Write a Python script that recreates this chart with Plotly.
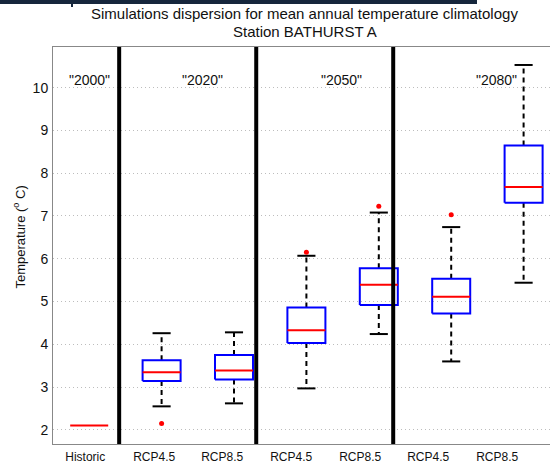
import plotly.graph_objects as go

# Box-plot summary statistics (degrees C) per simulation group
categories = ["Historic", "RCP4.5", "RCP8.5", "RCP4.5", "RCP8.5", "RCP4.5", "RCP8.5"]
whisker_low = [2.10, 2.55, 2.62, 2.97, 4.24, 3.60, 5.44]
q1 = [2.10, 3.14, 3.18, 4.03, 4.92, 4.72, 7.31]
median = [2.10, 3.35, 3.39, 4.33, 5.39, 5.11, 7.68]
q3 = [2.10, 3.63, 3.75, 4.86, 5.78, 5.53, 8.65]
whisker_high = [2.10, 4.26, 4.28, 6.07, 7.08, 6.74, 10.53]
outliers = [[], [2.15], [], [6.15], [7.23], [7.03], []]

periods = ['"2000"', '"2020"', '"2050"', '"2080"']
y_ticks = [2, 3, 4, 5, 6, 7, 8, 9, 10]

# layout helpers (label / separator placement along the box axis)
label_x = [0.945, 1.898, 2.837, 3.790, 4.743, 5.682, 6.635]
period_label_x = [1.0, 2.56, 4.49, 6.62]
period_label_y = 10.17
separators_x = [1.414, 3.307, 5.199]
BOX_HALF = 0.2625
CAP_HALF = 0.125

positions = list(range(1, len(categories) + 1))

box_x, box_y = [], []
med_x, med_y = [], []
wh_x, wh_y = [], []
cap_x, cap_y = [], []
out_x, out_y = [], []

for p, lo, a, m, b, hi, outs in zip(positions, whisker_low, q1, median, q3, whisker_high, outliers):
    med_x += [p - BOX_HALF, p + BOX_HALF, None]
    med_y += [m, m, None]
    for v in outs:
        out_x.append(p)
        out_y.append(v)
    if b <= a:
        continue
    box_x += [p - BOX_HALF, p + BOX_HALF, p + BOX_HALF, p - BOX_HALF, p - BOX_HALF, None]
    box_y += [a, a, b, b, a, None]
    wh_x += [p, p, None, p, p, None]
    wh_y += [b, hi, None, a, lo, None]
    cap_x += [p - CAP_HALF, p + CAP_HALF, None, p - CAP_HALF, p + CAP_HALF, None]
    cap_y += [hi, hi, None, lo, lo, None]

fig = go.Figure()
fig.add_trace(go.Scatter(x=wh_x, y=wh_y, mode="lines",
                         line=dict(color="black", width=2, dash="5px,4px"),
                         hoverinfo="skip", showlegend=False))
fig.add_trace(go.Scatter(x=cap_x, y=cap_y, mode="lines",
                         line=dict(color="black", width=2),
                         hoverinfo="skip", showlegend=False))
fig.add_trace(go.Scatter(x=box_x, y=box_y, mode="lines",
                         line=dict(color="#0000ff", width=2),
                         hoverinfo="skip", showlegend=False))
fig.add_trace(go.Scatter(x=med_x, y=med_y, mode="lines",
                         line=dict(color="#ff0000", width=2),
                         hoverinfo="skip", showlegend=False))
fig.add_trace(go.Scatter(x=out_x, y=out_y, mode="markers",
                         marker=dict(color="#ff0000", size=5, symbol="circle"),
                         hoverinfo="skip", showlegend=False))

# period separators
for sx in separators_x:
    fig.add_shape(type="line", xref="x", yref="paper", x0=sx, x1=sx, y0=0, y1=1,
                  line=dict(color="black", width=4), layer="above")

# period labels
for lx, txt in zip(period_label_x, periods):
    fig.add_annotation(x=lx, y=period_label_y, xref="x", yref="y", text=txt,
                       showarrow=False, font=dict(size=14, color="#111111"),
                       xanchor="center", yanchor="middle")

# title lines
fig.add_annotation(x=0.507, y=1.0856, xref="paper", yref="paper",
                   text="Simulations dispersion for mean annual temperature climatology",
                   showarrow=False, font=dict(size=15, color="#111111"),
                   xanchor="center", yanchor="middle")
fig.add_annotation(x=0.507, y=1.0403, xref="paper", yref="paper",
                   text="Station BATHURST A",
                   showarrow=False, font=dict(size=15, color="#111111"),
                   xanchor="center", yanchor="middle")

# y-axis title
fig.add_annotation(x=-34 / 497, y=0.52, xref="paper", yref="paper",
                   text="Temperature (<sup>o</sup> C)", textangle=-90,
                   showarrow=False, font=dict(size=13, color="#111111"),
                   xanchor="center", yanchor="middle")

# dark strip along the top edge
fig.add_shape(type="rect", xref="paper", yref="paper",
              x0=-53 / 497, x1=(477 - 53) / 497, y0=1 + 43 / 397, y1=1 + 47 / 397,
              line=dict(width=0), fillcolor="#16263c", layer="above")
fig.add_shape(type="rect", xref="paper", yref="paper",
              x0=(71 - 53) / 497, x1=(73 - 53) / 497, y0=1 + 40 / 397, y1=1 + 47 / 397,
              line=dict(width=0), fillcolor="#16263c", layer="above")

fig.update_layout(
    width=550, height=466,
    margin=dict(l=53, r=0, t=47, b=22),
    paper_bgcolor="white", plot_bgcolor="white",
    font=dict(family="Liberation Sans, Arial, sans-serif", color="#111111"),
    xaxis=dict(
        range=[0.5, 0.5 + 497 / 72.4],
        tickmode="array", tickvals=label_x, ticktext=categories,
        tickfont=dict(size=12), showgrid=False, zeroline=False,
        showline=True, linecolor="#888888", linewidth=1, mirror=True,
        ticks="", ticklabelstandoff=2,
    ),
    yaxis=dict(
        range=[1.67, 10.95],
        tickmode="array", tickvals=y_ticks, tickfont=dict(size=14),
        showgrid=True, gridcolor="#bdbdbd", griddash="1px,3px", gridwidth=1,
        zeroline=False, showline=True, linecolor="#888888", linewidth=1,
        ticks="", ticklabelstandoff=1,
    ),
)

fig.write_html("out.html")
